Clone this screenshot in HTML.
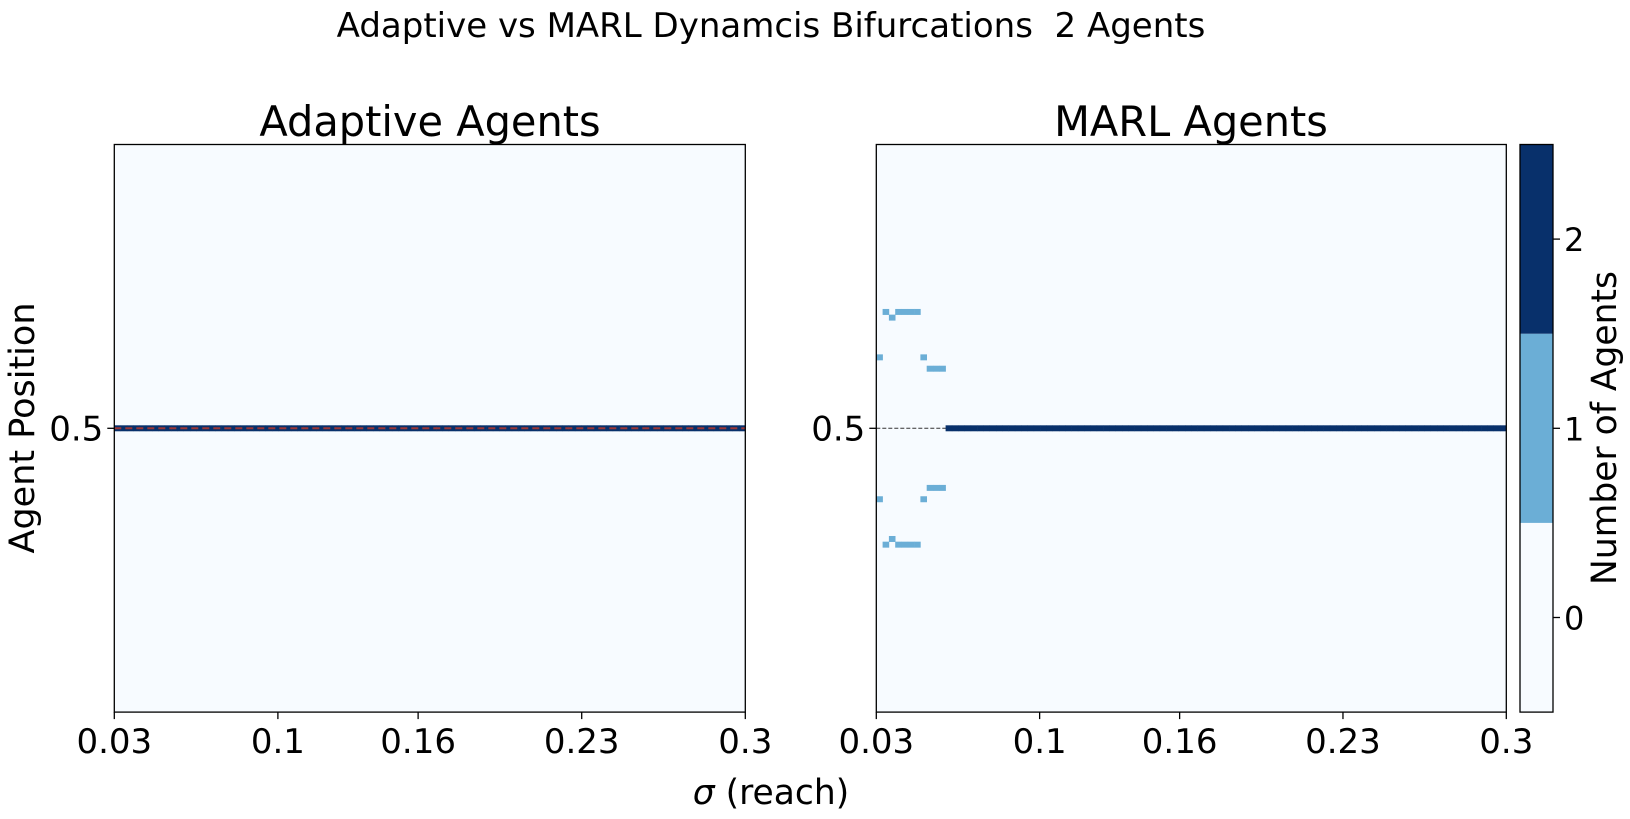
<!DOCTYPE html>
<html><head><meta charset="utf-8"><style>
html,body{margin:0;padding:0;background:#fff;}
svg{display:block;font-family:"DejaVu Sans","Liberation Sans",sans-serif;}
</style></head><body>
<svg id="fig" width="1630" height="819" viewBox="0 0 1630 819">
<text x="771" y="37" font-size="34" text-anchor="middle" xml:space="preserve" style="white-space:pre">Adaptive vs MARL Dynamcis Bifurcations  2 Agents</text>
<text x="430" y="136" font-size="41.5" text-anchor="middle">Adaptive Agents</text>
<text x="1191" y="136" font-size="41.5" text-anchor="middle">MARL Agents</text>
<text x="771" y="804" font-size="34.5" text-anchor="middle"><tspan font-style="italic">σ</tspan> (reach)</text>
<text transform="translate(34,428) rotate(-90)" font-size="35" text-anchor="middle">Agent Position</text>
<text transform="translate(1616,428) rotate(-90)" font-size="34.5" text-anchor="middle">Number of Agents</text>
<g id="left"></g>
<g id="right"></g>
<g id="cbar"></g>
</svg>
<script>
const sigmaMin = 0.03, sigmaMax = 0.3, nCols = 100, nRows = 95;
const xTicks = [0.03, 0.1, 0.16, 0.23, 0.3];
const xTickLabels = ["0.03", "0.1", "0.16", "0.23", "0.3"];
const yTicks = [0.5];
const yTickLabels = ["0.5"];
// Adaptive: both agents at 0.5 for every sigma column
const adaptivePos = [0.5];
// MARL early columns: upper agent positions per column (lower is mirrored)
const marlCols = [0,1,2,3,4,5,6,7,8,9,10];
const marlUpper = [0.625,0.705,0.695,0.705,0.705,0.705,0.705,0.625,0.605,0.605,0.605];
const marlLower = [0.375,0.295,0.305,0.295,0.295,0.295,0.295,0.375,0.395,0.395,0.395];
const marlMergeCol = 11;
const cbTicks = [0,1,2];
const cbColors = ["#f7fbff","#6baed6","#08306b"];

const NS="http://www.w3.org/2000/svg";
function mk(tag,attrs,parent){const e=document.createElementNS(NS,tag);for(const k in attrs)e.setAttribute(k,attrs[k]);parent.appendChild(e);return e;}
const yTop=144.5, yBot=712.1;
function makeAxes(x0,x1){
  return {x:v=>x0+(v-sigmaMin)/(sigmaMax-sigmaMin)*(x1-x0), y:v=>yBot-v*(yBot-yTop), x0:x0, x1:x1};
}
function frame(g,ax,name){
  const bg=mk('rect',{x:ax.x0,y:yTop,width:ax.x1-ax.x0,height:yBot-yTop,fill:cbColors[0]},g);
  
  
}
function cell(g,ax,col,val,count,name){
  const w=(sigmaMax-sigmaMin)/nCols;
  const xa=ax.x(sigmaMin+col*w), xb=ax.x(sigmaMin+(col+1)*w);
  const h=(yBot-yTop)/nRows;
  const r=mk('rect',{x:xa,y:ax.y(val)-h/2,width:xb-xa+0.3,height:h,fill:cbColors[count]},g);
  
  
}
function axesDecor(g,ax,name){
  const b=mk('rect',{x:ax.x0,y:yTop,width:ax.x1-ax.x0,height:yBot-yTop,fill:'none',stroke:'#000','stroke-width':1.3},g);
  
  
  xTicks.forEach((t,i)=>{
    const X=ax.x(t);
    mk('line',{x1:X,x2:X,y1:yBot,y2:yBot+7,stroke:'#000','stroke-width':1.3},g);
    const tx=mk('text',{x:X,y:yBot+41,'font-size':34,'text-anchor':'middle'},g);
    tx.textContent=xTickLabels[i];
    
    
  });
  yTicks.forEach((t,i)=>{
    const Y=ax.y(t);
    mk('line',{x1:ax.x0-7,x2:ax.x0,y1:Y,y2:Y,stroke:'#000','stroke-width':1.3},g);
    const tx=mk('text',{x:ax.x0-11,y:Y+12,'font-size':34,'text-anchor':'end'},g);
    tx.textContent=yTickLabels[i];
    
    
  });
}
// Left panel
const L=document.getElementById('left');
const axL=makeAxes(114.3,745.3);
frame(L,axL,'adaptive');
for(let c=0;c<nCols;c++) adaptivePos.forEach(v=>cell(L,axL,c,v,2,'adaptive-cell'));
const rl=mk('line',{x1:axL.x0,x2:axL.x1,y1:axL.y(0.5),y2:axL.y(0.5),stroke:'#c0392b','stroke-width':2,'stroke-dasharray':'7,4',opacity:0.8},L);


axesDecor(L,axL,'adaptive');
// Right panel
const R=document.getElementById('right');
const axR=makeAxes(876.3,1506.3);
frame(R,axR,'marl');
const dl=mk('line',{x1:axR.x0,x2:axR.x1,y1:axR.y(0.5),y2:axR.y(0.5),stroke:'#333','stroke-width':1,'stroke-dasharray':'4,2'},R);


marlCols.forEach((c,i)=>{cell(R,axR,c,marlUpper[i],1,'marl-cell-upper');cell(R,axR,c,marlLower[i],1,'marl-cell-lower');});
for(let c=marlMergeCol;c<nCols;c++) cell(R,axR,c,0.5,2,'marl-cell-merged');
axesDecor(R,axR,'marl');
// Colorbar
const C=document.getElementById('cbar');
const cx0=1520,cx1=1553;
const cy=v=>yBot-(v+0.5)/3*(yBot-yTop);
cbTicks.forEach((t,i)=>{
  const r=mk('rect',{x:cx0,y:cy(t+0.5),width:cx1-cx0,height:cy(t-0.5)-cy(t+0.5),fill:cbColors[i]},C);
  
  
  mk('line',{x1:cx1,x2:cx1+7,y1:cy(t),y2:cy(t),stroke:'#000','stroke-width':1.3},C);
  const tx=mk('text',{x:cx1+11,y:cy(t)+12,'font-size':32},C);
  tx.textContent=String(t);
  
  
});
mk('rect',{x:cx0,y:yTop,width:cx1-cx0,height:yBot-yTop,fill:'none',stroke:'#000','stroke-width':1.3},C);
</script>
</body></html>
